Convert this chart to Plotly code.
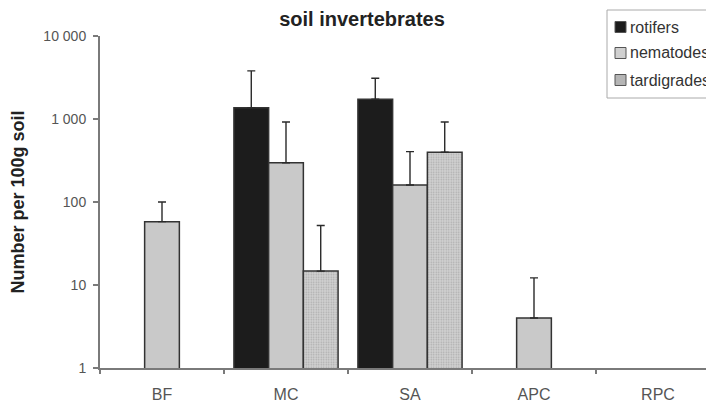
import plotly.graph_objects as go

categories = ["BF", "MC", "SA", "APC", "RPC"]
rotifers = [None, 1370, 1730, None, None]
rotifers_upper = [None, 3800, 3100, None, None]
nematodes = [58, 297, 160, 4, None]
nematodes_upper = [100, 920, 404, 12.2, None]
tardigrades = [None, 14.7, 397, None, None]
tardigrades_upper = [None, 52, 920, None, None]

series_names = ["rotifers", "nematodes", "tardigrades"]

y_tickvals = [1, 10, 100, 1000, 10000]
y_ticktext = ["1", "10", "100", "1 000", "10 000"]


def plus(vals, upper):
    return [(u - v) if (u is not None and v is not None) else 0 for v, u in zip(vals, upper)]


def zeros(vals):
    return [0 for _ in vals]


# page body has an 8px margin, the figure is sized to compensate
OFF = 8
W, H = 714 - OFF, 405 - OFF
ML, MT, MB = 100 - OFF, 36 - OFF, 37
PW, PH = W - ML, H - MT - MB


def px(xs):
    return (xs - OFF - ML) / PW


def py(ys):
    return (H - MB - (ys - OFF)) / PH


err_style = dict(type="data", symmetric=False, color="#2a2a2a", thickness=1.4, width=4)
line_style = dict(color="#333333", width=1.5)
FONT = "Liberation Sans, Arial, sans-serif"
fills = ["#1c1c1c", "#c9c9c9", "#d2d2d2"]

fig = go.Figure()
fig.add_trace(go.Bar(
    x=categories, y=rotifers, name=series_names[0],
    marker=dict(color=fills[0], line=line_style),
    error_y=dict(array=plus(rotifers, rotifers_upper), arrayminus=zeros(rotifers), **err_style),
))
fig.add_trace(go.Bar(
    x=categories, y=nematodes, name=series_names[1],
    marker=dict(color=fills[1], line=line_style),
    error_y=dict(array=plus(nematodes, nematodes_upper), arrayminus=zeros(nematodes), **err_style),
))
fig.add_trace(go.Bar(
    x=categories, y=tardigrades, name=series_names[2],
    marker=dict(color=fills[2], line=line_style,
                pattern=dict(shape=".", fgcolor="#808080", size=2.5, solidity=0.3, fillmode="overlay")),
    error_y=dict(array=plus(tardigrades, tardigrades_upper), arrayminus=zeros(tardigrades), **err_style),
))

# manual legend box (top right, partly cut by the edge as in the reference)
shapes = [dict(type="rect", xref="paper", yref="paper",
               x0=px(607), x1=px(730), y0=py(98), y1=py(10),
               line=dict(color="#aaaaaa", width=1), fillcolor="white", layer="above")]
annotations = []
row_y = [27, 53, 80]
legend_fill = ["#1c1c1c", "#d0d0d0", "#b5b5b5"]
for name, fc, ry in zip(series_names, legend_fill, row_y):
    shapes.append(dict(type="rect", xref="paper", yref="paper",
                       x0=px(615), x1=px(626), y0=py(ry + 5.5), y1=py(ry - 5.5),
                       line=dict(color="#555555", width=1), fillcolor=fc, layer="above"))
    annotations.append(dict(text=name, xref="paper", yref="paper", x=px(627.5), y=py(ry),
                            xanchor="left", yanchor="middle", showarrow=False,
                            font=dict(family=FONT, size=16, color="#333333")))

fig.update_layout(
    width=W, height=H,
    margin=dict(l=ML, r=0, t=MT, b=MB),
    paper_bgcolor="white", plot_bgcolor="white",
    barmode="group", bargap=0.16, bargroupgap=0,
    font=dict(family=FONT, size=12, color="#555555"),
    title=dict(text="<b>soil invertebrates</b>", xref="paper", x=px(362), xanchor="center",
               yref="container", y=1 - (18.5 - OFF) / H, yanchor="middle",
               font=dict(family=FONT, size=20, color="#222222")),
    showlegend=False,
    shapes=shapes, annotations=annotations,
)
fig.update_xaxes(
    type="category", range=[-0.5, -0.5 + PW / 124.0],
    showline=True, linecolor="#7a7a7a", linewidth=2,
    ticks="outside", tickson="boundaries", ticklen=4, tickcolor="#7a7a7a", tickwidth=1.5,
    tickfont=dict(family=FONT, size=16, color="#555555"),
    ticklabelstandoff=11, automargin=False,
    showgrid=False, zeroline=False,
)
fig.update_yaxes(
    type="log", range=[0, 4],
    tickvals=y_tickvals, ticktext=y_ticktext,
    showline=True, linecolor="#7a7a7a", linewidth=2,
    ticks="outside", ticklen=5, tickcolor="#7a7a7a", tickwidth=1.5,
    tickfont=dict(family=FONT, size=14, color="#555555"),
    ticklabelstandoff=4,
    automargin=False,
    title=dict(text="<b>Number per 100g soil</b>", standoff=22,
               font=dict(family=FONT, size=18, color="#222222")),
    showgrid=False, zeroline=False,
)

fig.write_html("out.html")
